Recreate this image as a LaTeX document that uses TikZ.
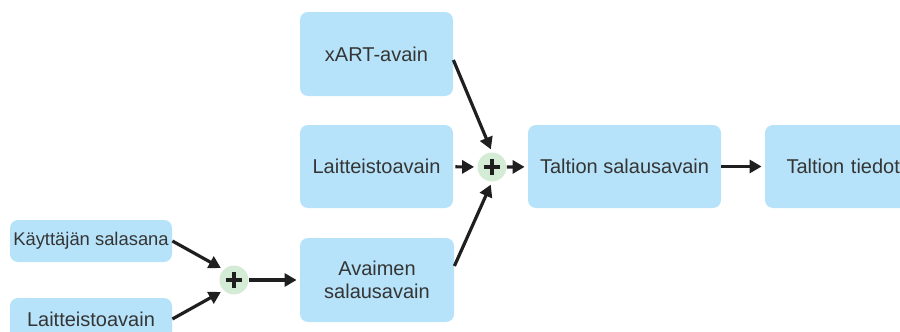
\documentclass[tikz,border=0pt]{standalone}
\usepackage{fontspec}
\setmainfont{Liberation Sans}
\usetikzlibrary{arrows.meta}
\definecolor{keyblue}{HTML}{B6E3F9}
\definecolor{plusgreen}{HTML}{D4EBD6}
\definecolor{inkgrey}{HTML}{1F1F1F}
\begin{document}
\begin{tikzpicture}[x=0.5pt,y=-0.5pt]
	\tikzset{keybox/.style = {shape=rectangle, rounded corners=4pt, fill=keyblue, text=inkgrey!90, minimum width=76.5pt, minimum height=41.5pt, inner sep=0pt, align=center, font=\fontsize{10}{11.5}\selectfont}}
	\tikzset{joiner/.style = {shape=circle, fill=plusgreen, minimum size=14.5pt, inner sep=0pt,
		path picture={\draw[line width=1.9pt, inkgrey] (path picture bounding box.center) ++(-4.2pt,0) -- ++(8.4pt,0)
			(path picture bounding box.center) ++(0,-4.2pt) -- ++(0,8.4pt);}}}
	\tikzset{edge/.style = {-{Triangle[length=6pt,width=6.5pt]}, line width=1.6pt, draw=inkgrey, shorten >=1.5pt}}
	\useasboundingbox (0,0) rectangle (900,332);
	\clip (0,0) rectangle (900,332);
	% Draw the key boxes
	\node[keybox, minimum width=81pt, minimum height=21pt, font=\fontsize{9.2}{11}\selectfont] (kayt) at (91,241) {Käyttäjän salasana};
	\node[keybox, minimum width=81pt, minimum height=21pt] (laitA) at (91,319) {Laitteistoavain};
	\node[keybox, minimum width=77pt, minimum height=42pt] (avain) at (377,280) {Avaimen\\salausavain};
	\node[keybox, minimum height=42pt] (xart) at (376.5,54) {xART-avain};
	\node[keybox] (laitB) at (376.5,166.5) {Laitteistoavain};
	\node[keybox, minimum width=96.5pt] (taltion) at (624.5,166.5) {Taltion salausavain};
	\node[keybox, minimum width=96.5pt, text width=75pt, align=left] (tiedot) at (861.5,166.5) {Taltion tiedot};
	% Draw the joins
	\node[joiner] (plusA) at (234,280) {};
	\node[joiner] (plusB) at (492,167) {};
	% Draw the arrows
	\draw[edge] (kayt.east) to (plusA.north west);
	\draw[edge] (laitA.east) to (plusA.south west);
	\draw[edge] (plusA) to (avain);
	\draw[edge] ([yshift=-3pt]xart.east) to (plusB.north);
	\draw[edge, shorten <=1pt] (laitB) to (plusB);
	\draw[edge] ([yshift=7pt]avain.east) to (plusB.south);
	\draw[edge] (plusB) to (taltion);
	\draw[edge] (taltion) to (tiedot);
\end{tikzpicture}
\end{document}
